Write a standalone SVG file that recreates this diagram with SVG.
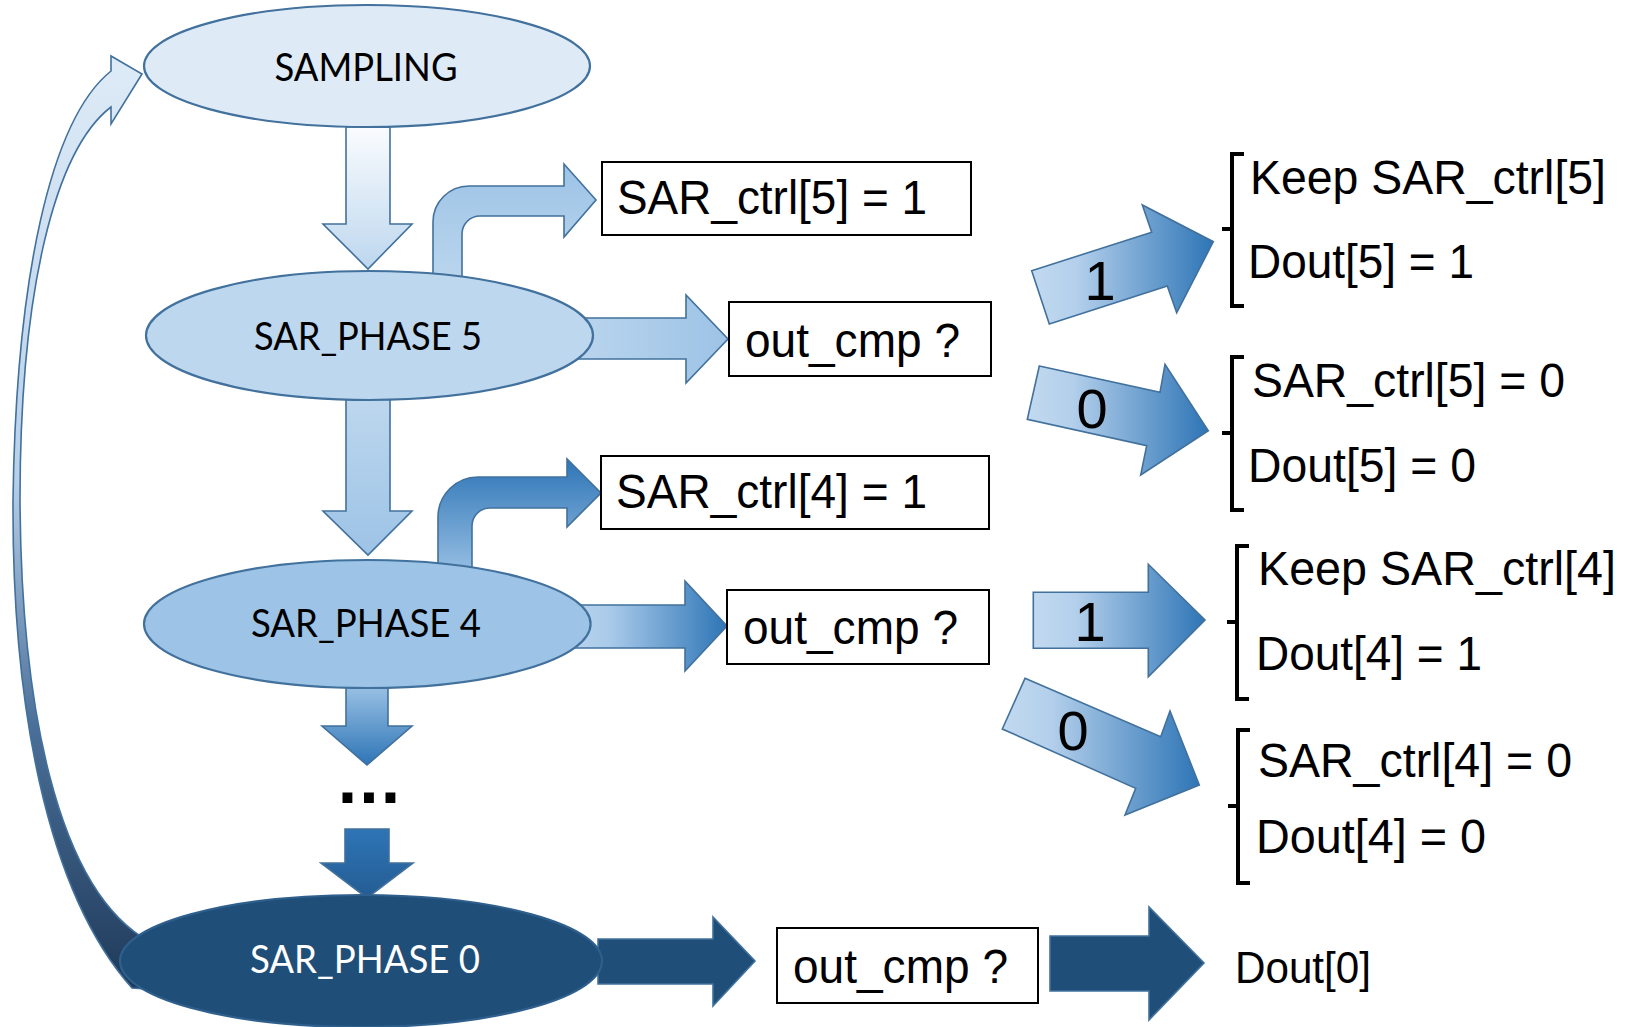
<svg xmlns="http://www.w3.org/2000/svg" width="1636" height="1027" viewBox="0 0 1636 1027">
  <defs>
    <style>
      .arw { stroke: #41719C; stroke-width: 1.6; stroke-linejoin: miter; }
      .ell { stroke: #41719C; stroke-width: 2.2; }
      .ntxt { font-family: Lato, "Open Sans", "Liberation Sans", sans-serif; font-size: 38px; fill: #000; text-anchor: middle; }
      .box { fill: #FFFFFF; stroke: #000; stroke-width: 2; }
      .txt { font-family: "Liberation Sans", Arial, sans-serif; font-size: 49px; fill: #000; }
      .dig { font-family: "Liberation Sans", Arial, sans-serif; font-size: 56px; fill: #000; text-anchor: middle; }
      .brk { fill: none; stroke: #000; stroke-width: 4; stroke-linejoin: miter; }
    </style>
    <linearGradient id="gV0" x1="0" y1="0" x2="0" y2="1">
      <stop offset="0" stop-color="#FAFCFE"/>
      <stop offset="1" stop-color="#BDD7EE"/>
    </linearGradient>
    <linearGradient id="gV1" x1="0" y1="0" x2="0" y2="1">
      <stop offset="0" stop-color="#BDD7EE"/>
      <stop offset="1" stop-color="#9DC3E6"/>
    </linearGradient>
    <linearGradient id="gV2" x1="0" y1="0" x2="0" y2="1">
      <stop offset="0" stop-color="#9DC3E6"/>
      <stop offset="1" stop-color="#2E75B6"/>
    </linearGradient>
    <linearGradient id="gV3" x1="0" y1="0" x2="0" y2="1">
      <stop offset="0" stop-color="#2E75B6"/>
      <stop offset="1" stop-color="#245C93"/>
    </linearGradient>
    <linearGradient id="gBend5" x1="0" y1="1" x2="0" y2="0">
      <stop offset="0" stop-color="#BDD7EE"/>
      <stop offset="1" stop-color="#9DC3E6"/>
    </linearGradient>
    <linearGradient id="gBend4" x1="0" y1="1" x2="0" y2="0">
      <stop offset="0" stop-color="#9DC3E6"/>
      <stop offset="1" stop-color="#2E75B6"/>
    </linearGradient>
    <linearGradient id="gH5" x1="0" y1="0" x2="1" y2="0">
      <stop offset="0" stop-color="#BDD7EE"/>
      <stop offset="1" stop-color="#9DC3E6"/>
    </linearGradient>
    <linearGradient id="gH4" x1="0" y1="0" x2="1" y2="0">
      <stop offset="0" stop-color="#BDD7EE"/>
      <stop offset="0.3" stop-color="#A9CAEA"/>
      <stop offset="1" stop-color="#2E75B6"/>
    </linearGradient>
    <linearGradient id="gDiag" x1="0" y1="0" x2="1" y2="0">
      <stop offset="0" stop-color="#C2DAF0"/>
      <stop offset="0.25" stop-color="#B3CFEB"/>
      <stop offset="1" stop-color="#2E75B6"/>
    </linearGradient>
    <linearGradient id="gLoop" gradientUnits="userSpaceOnUse" x1="0" y1="56" x2="0" y2="988">
      <stop offset="0" stop-color="#DEEBF7"/>
      <stop offset="0.45" stop-color="#B9D0EA"/>
      <stop offset="0.72" stop-color="#4A6F98"/>
      <stop offset="1" stop-color="#1F3A5A"/>
    </linearGradient>
  </defs>

  <rect width="1636" height="1027" fill="#FFFFFF"/>

  <!-- connectors: block arrows between states and outputs -->
  <g id="connectors">
    <!-- return path from the last phase back to sampling -->
    <path class="arw" fill="url(#gLoop)" d="M 111,71 L 111,56 L 142,74 L 111,124 L 111,107 C 55,150 20,290 20,500 C 21,700 55,890 150,942 L 160,945 L 160,990 L 132,988 C 45,890 12,700 13,500 C 16,280 50,120 111,71 Z"/>

    <!-- vertical state transitions -->
    <path class="arw" fill="url(#gV0)" d="M 346,127 L 390,127 L 390,224 L 412,224 L 368,269 L 323,224 L 346,224 Z"/>
    <path class="arw" fill="url(#gV1)" d="M 346,398 L 390,398 L 390,511 L 412,511 L 368,555 L 323,511 L 346,511 Z"/>
    <path class="arw" fill="url(#gV2)" d="M 346,684 L 388,684 L 388,726 L 412,726 L 367,765 L 322,726 L 346,726 Z"/>
    <path class="arw" fill="url(#gV3)" d="M 345,829 L 389,829 L 389,863 L 413,863 L 367,898 L 321,863 L 345,863 Z"/>

    <!-- bent arrows to SAR_ctrl boxes -->
    <path class="arw" fill="url(#gBend5)" d="M 433,290 L 433,222 A 36,36 0 0 1 469,186 L 564,186 L 564,164 L 596,200 L 564,237 L 564,216 L 480,216 A 18,18 0 0 0 462,234 L 462,290 Z"/>
    <path class="arw" fill="url(#gBend4)" d="M 438,580 L 438,517 A 40,40 0 0 1 478,477 L 567,477 L 567,459 L 601,493 L 567,527 L 567,508 L 490,508 A 18,18 0 0 0 472,526 L 472,580 Z"/>

    <!-- arrows to comparator checks -->
    <path class="arw" fill="url(#gH5)" d="M 560,318 L 686,318 L 686,295 L 728,339 L 686,383 L 686,359 L 560,359 Z"/>
    <path class="arw" fill="url(#gH4)" d="M 560,605 L 685,605 L 685,581 L 727,626 L 685,671 L 685,648 L 560,648 Z"/>
    <path class="arw" fill="#1F4E79" d="M 598,939 L 713,939 L 713,917 L 755,961 L 713,1006 L 713,984 L 598,984 Z"/>
    <path class="arw" fill="#1F4E79" d="M 1050,936 L 1149,936 L 1149,907 L 1204,963 L 1149,1020 L 1149,991 L 1050,991 Z"/>

    <!-- comparator outcome arrows -->
    <g id="out5-one">
      <polygon class="arw" fill="url(#gDiag)" points="1031.7,270.7 1151.7,232.3 1142.3,205 1213.3,241.7 1176.7,312.7 1167.3,286 1049.3,324"/>
      <text class="dig" x="1100" y="300">1</text>
    </g>
    <g id="out5-zero">
      <polygon class="arw" fill="url(#gDiag)" points="1039.3,366 1160,392.3 1165,364.3 1208.3,430.7 1140.7,475 1146.7,445.7 1027.3,419.3"/>
      <text class="dig" x="1092" y="428">0</text>
    </g>
    <g id="out4-one">
      <polygon class="arw" fill="url(#gDiag)" points="1033.3,592.3 1148.3,592.3 1148.3,564.3 1205,620 1148.3,676.7 1148.3,648.3 1033.3,648.3"/>
      <text class="dig" x="1090" y="641">1</text>
    </g>
    <g id="out4-zero">
      <polygon class="arw" fill="url(#gDiag)" points="1025,678.3 1160.7,736.7 1170,711 1199.3,785 1125,815 1135.7,788.3 1002.3,729"/>
      <text class="dig" x="1073" y="750">0</text>
    </g>
  </g>

  <!-- state nodes -->
  <g id="sampling">
    <ellipse class="ell" cx="367" cy="66" rx="223" ry="61" fill="#DEEBF7"/>
    <text class="ntxt" x="366" y="81" textLength="183" lengthAdjust="spacingAndGlyphs">SAMPLING</text>
  </g>
  <g id="sar-phase-5">
    <ellipse class="ell" cx="369.5" cy="335.5" rx="223.5" ry="64.5" fill="#BDD7EE"/>
    <text class="ntxt" x="368" y="350" textLength="228" lengthAdjust="spacingAndGlyphs">SAR_PHASE 5</text>
  </g>
  <g id="sar-phase-4">
    <ellipse class="ell" cx="367.3" cy="624" rx="223.3" ry="64" fill="#9DC3E6"/>
    <text class="ntxt" x="366" y="637" textLength="230" lengthAdjust="spacingAndGlyphs">SAR_PHASE 4</text>
  </g>
  <g id="ellipsis">
    <text x="370" y="803" font-family="'Liberation Sans', Arial, sans-serif" font-weight="bold" font-size="70" letter-spacing="2" text-anchor="middle" fill="#000">...</text>
  </g>
  <g id="sar-phase-0">
    <ellipse cx="361" cy="961" rx="241" ry="66" fill="#1F4E79" stroke="#2F5F8D" stroke-width="2.2"/>
    <text class="ntxt" x="365" y="973" style="fill:#FFFFFF" textLength="230" lengthAdjust="spacingAndGlyphs">SAR_PHASE 0</text>
  </g>

  <!-- control and comparator boxes -->
  <g id="ctrl5-set">
    <rect class="box" x="602" y="162" width="369" height="73"/>
    <text class="txt" x="617" y="214" textLength="310" lengthAdjust="spacingAndGlyphs">SAR_ctrl[5] = 1</text>
  </g>
  <g id="cmp5">
    <rect class="box" x="729" y="302" width="262" height="74"/>
    <text class="txt" x="745" y="357" textLength="215" lengthAdjust="spacingAndGlyphs">out_cmp ?</text>
  </g>
  <g id="ctrl4-set">
    <rect class="box" x="601" y="456" width="388" height="73"/>
    <text class="txt" x="616" y="508" textLength="311" lengthAdjust="spacingAndGlyphs">SAR_ctrl[4] = 1</text>
  </g>
  <g id="cmp4">
    <rect class="box" x="727" y="590" width="262" height="74"/>
    <text class="txt" x="743" y="644" textLength="215" lengthAdjust="spacingAndGlyphs">out_cmp ?</text>
  </g>
  <g id="cmp0">
    <rect class="box" x="777" y="928" width="261" height="75"/>
    <text class="txt" x="793" y="983" textLength="215" lengthAdjust="spacingAndGlyphs">out_cmp ?</text>
  </g>

  <!-- outcome groups -->
  <g id="res5-one">
    <path class="brk" d="M 1244,154 L 1232,154 L 1232,306 L 1244,306 M 1222,229 L 1232,229"/>
    <text class="txt" x="1250" y="194" textLength="356" lengthAdjust="spacingAndGlyphs">Keep SAR_ctrl[5]</text>
    <text class="txt" x="1248" y="278" textLength="226" lengthAdjust="spacingAndGlyphs">Dout[5] = 1</text>
  </g>
  <g id="res5-zero">
    <path class="brk" d="M 1244,357 L 1232,357 L 1232,510 L 1244,510 M 1222,433 L 1232,433"/>
    <text class="txt" x="1252" y="397" textLength="313" lengthAdjust="spacingAndGlyphs">SAR_ctrl[5] = 0</text>
    <text class="txt" x="1248" y="482" textLength="228" lengthAdjust="spacingAndGlyphs">Dout[5] = 0</text>
  </g>
  <g id="res4-one">
    <path class="brk" d="M 1249,546 L 1237,546 L 1237,699 L 1249,699 M 1227,622 L 1237,622"/>
    <text class="txt" x="1258" y="585" textLength="358" lengthAdjust="spacingAndGlyphs">Keep SAR_ctrl[4]</text>
    <text class="txt" x="1256" y="670" textLength="226" lengthAdjust="spacingAndGlyphs">Dout[4] = 1</text>
  </g>
  <g id="res4-zero">
    <path class="brk" d="M 1250,730 L 1238,730 L 1238,883 L 1250,883 M 1228,806 L 1238,806"/>
    <text class="txt" x="1258" y="777" textLength="314" lengthAdjust="spacingAndGlyphs">SAR_ctrl[4] = 0</text>
    <text class="txt" x="1256" y="853" textLength="230" lengthAdjust="spacingAndGlyphs">Dout[4] = 0</text>
  </g>
  <g id="res0">
    <text class="txt" x="1235" y="983" style="font-size:44px" textLength="136" lengthAdjust="spacingAndGlyphs">Dout[0]</text>
  </g>
</svg>
